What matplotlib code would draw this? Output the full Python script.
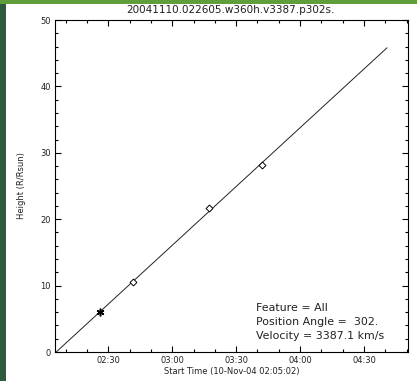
import matplotlib
matplotlib.use("Agg")
import matplotlib.pyplot as plt
from matplotlib.patches import Rectangle
from matplotlib.ticker import MultipleLocator

# data: minutes after 02:00 on 10-Nov-04, height in R/Rsun
pt_time = [26.1, 41.6, 77.4, 101.9]
pt_height = [5.98, 10.5, 21.7, 28.2]
fit_time = [5.6, 160.7]
fit_height = [0.0, 45.8]
tick_min = [30, 60, 90, 120, 150]
tick_lbl = ["02:30", "03:00", "03:30", "04:00", "04:30"]

fig = plt.figure(figsize=(4.17, 3.81), dpi=100)
fig.patch.set_facecolor("#2f5a3c")
# lighter green strip on top, then the white window over the desktop
fig.patches.append(Rectangle((0, 377 / 381), 1, 4 / 381, transform=fig.transFigure,
                             facecolor="#5f9e3a", edgecolor="none", zorder=-2))
fig.patches.append(Rectangle((6 / 417, 0), 1, 377 / 381, transform=fig.transFigure,
                             facecolor="white", edgecolor="none", zorder=-1))

ax = fig.add_axes([55 / 417, 29 / 381, 353 / 417, 332 / 381])
ax.set_zorder(2)
ax.set_facecolor("white")

ax.plot(fit_time, fit_height, color="#222222", lw=0.7)
ax.plot(pt_time[:1], pt_height[:1], ls="none", marker=(6, 2, 0), ms=5.5, mec="black", mew=1.1)
ax.plot(pt_time[1:], pt_height[1:], ls="none", marker="D", ms=3.5, mfc="white", mec="black", mew=0.7)

ax.set_xlim(5.03, 170.6)
ax.set_ylim(0, 50)
ax.set_xticks(tick_min)
ax.set_xticklabels(tick_lbl)
ax.xaxis.set_minor_locator(MultipleLocator(10))
ax.yaxis.set_major_locator(MultipleLocator(10))
ax.yaxis.set_minor_locator(MultipleLocator(2))
ax.tick_params(which="both", direction="in", top=True, right=True, width=0.8,
               labelsize=6, pad=3, labelcolor="#222222")
ax.tick_params(which="major", length=4.5)
ax.tick_params(which="minor", length=2.3)
for s in ax.spines.values():
    s.set_linewidth(0.8)

ax.set_xlabel("Start Time (10-Nov-04 02:05:02)", fontsize=6, labelpad=1, color="#222222")
ax.set_ylabel("Height (R/Rsun)", fontsize=6, labelpad=10, color="#222222")
fig.text(230 / 417, 1 - 10 / 381, "20041110.022605.w360h.v3387.p302s.",
         ha="center", va="center", fontsize=7.5, color="#222222")

info = ["Feature = All", "Position Angle =  302.", "Velocity = 3387.1 km/s"]
for i, t in enumerate(info):
    ax.text(0.569, 0.132 - i * 0.042, t, transform=ax.transAxes,
            ha="left", va="center", fontsize=7.9, color="#222222")

fig.savefig("out.png", dpi=100, facecolor=fig.get_facecolor())
